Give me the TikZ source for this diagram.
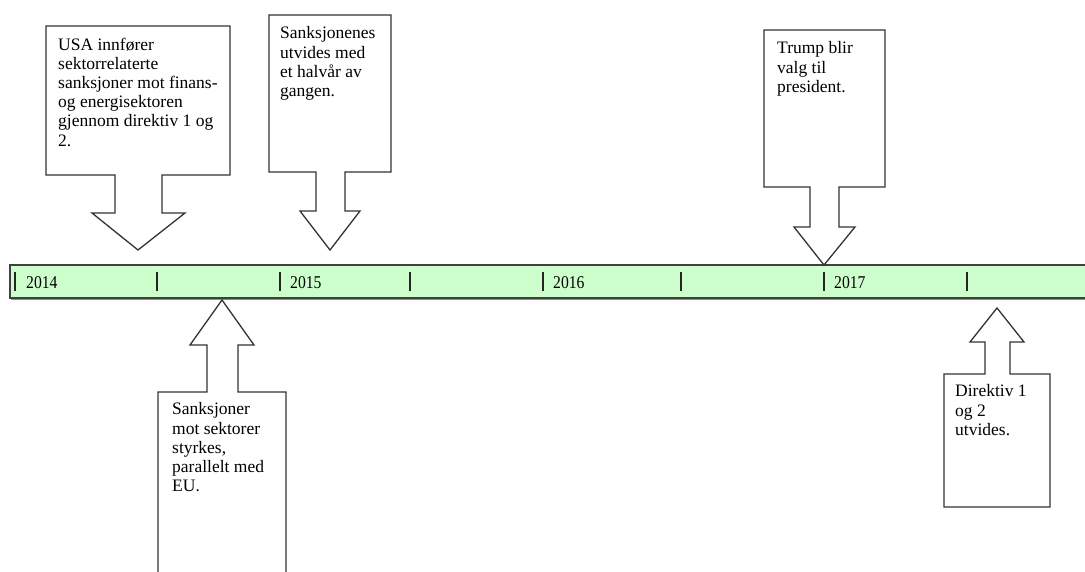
\documentclass[tikz,border=0pt]{standalone}
\usepackage{fontspec}
\setmainfont{Liberation Serif}
\definecolor{barGreen}{HTML}{CCFFCC}
\begin{document}
\begin{tikzpicture}[x=1pt,y=-1pt,
  callout/.style={draw=black!80, line width=1.3pt, fill=white, line join=miter},
  lbl/.style={anchor=north west, inner sep=0pt, align=left, font=\fontsize{17.5}{19.2}\selectfont},
  yr/.style={anchor=base west, inner sep=0pt, font=\fontsize{18}{18}\selectfont},
  tickmark/.style={line width=1.6pt, black!85},
  bar/.style={fill=barGreen, draw=black!75, line width=1.3pt}]
\useasboundingbox (0,0) rectangle (1085,572);
% timeline bar
\draw[black!45, line width=1.5pt] (11,299.5) -- (1100,299.5);
\draw[bar] (10,265) rectangle (1100,298);
\foreach \x/\n in {15/t1,157/t2,280/t3,410/t4,543/t5,681/t6,824/t7,967/t8}{
  \coordinate (\n a) at (\x,272);
  \coordinate (\n b) at (\x,291);
  \draw[tickmark] (\n a) -- (\n b);
}
\node[yr] (y2014) at (26,289) {\scalebox{0.87}[1]{2014}};
\node[yr] (y2015) at (290,289) {\scalebox{0.87}[1]{2015}};
\node[yr] (y2016) at (553,289) {\scalebox{0.87}[1]{2016}};
\node[yr] (y2017) at (834,289) {\scalebox{0.87}[1]{2017}};
% callout 1
\draw[callout] (46,26) -- (230,26) -- (230,175) -- (162,175) -- (162,213) -- (185,213) -- (138,250) -- (92,213) -- (115,213) -- (115,175) -- (46,175) -- cycle;
\node[lbl] (c1) at (58,37.5) {USA innfører\\sektorrelaterte\\sanksjoner mot finans-\\og energisektoren\\gjennom direktiv 1 og\\2.};
% callout 2
\draw[callout] (269,15) -- (391,15) -- (391,172) -- (345,172) -- (345,211) -- (360,211) -- (330,250) -- (300,211) -- (316,211) -- (316,172) -- (269,172) -- cycle;
\node[lbl] (c2) at (280,26.5) {Sanksjonenes\\utvides med\\et halvår av\\gangen.};
% callout 3
\draw[callout] (764,30) -- (885,30) -- (885,187) -- (839,187) -- (839,227) -- (855,227) -- (824,265) -- (794,227) -- (810,227) -- (810,187) -- (764,187) -- cycle;
\node[lbl] (c3) at (777,41.5) {Trump blir\\valg til\\president.};
% callout 4 (below)
\draw[callout] (222,300) -- (254,345) -- (238,345) -- (238,392) -- (286,392) -- (286,600) -- (158,600) -- (158,392) -- (207,392) -- (207,345) -- (190,345) -- cycle;
\node[lbl] (c4) at (172,402.5) {Sanksjoner\\mot sektorer\\styrkes,\\parallelt med\\EU.};
% callout 5 (below)
\draw[callout] (997,308) -- (1024,342) -- (1010,342) -- (1010,374) -- (1050,374) -- (1050,507) -- (944,507) -- (944,374) -- (985,374) -- (985,342) -- (970,342) -- cycle;
\node[lbl] (c5) at (955,384.5) {Direktiv 1\\og 2\\utvides.};
\end{tikzpicture}
\end{document}
